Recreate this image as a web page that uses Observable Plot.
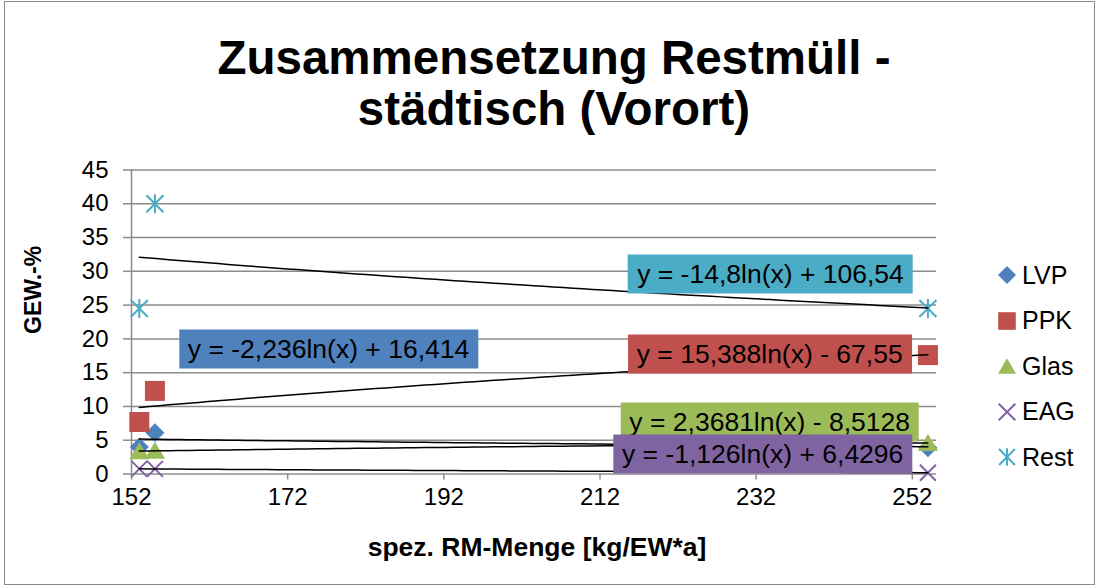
<!DOCTYPE html>
<html><head><meta charset="utf-8">
<script src="https://cdn.jsdelivr.net/npm/d3@7"></script>
<script src="https://cdn.jsdelivr.net/npm/@observablehq/plot@0.6"></script>
<style>
body{margin:0;background:#fff;}
#wrap{position:relative;width:1099px;height:588px;overflow:hidden;font-family:"Liberation Sans",Arial,sans-serif;background:#fff;}
#wrap svg.plot{position:absolute;left:0;top:0;}
#frame{position:absolute;left:4px;top:1px;width:1091px;height:584px;border:1.5px solid #8a8a8a;box-sizing:border-box;pointer-events:none;}
#title{position:absolute;left:0;width:1108px;top:32px;text-align:center;font-weight:bold;font-size:47.5px;line-height:51px;color:#000;}
.eq{position:absolute;transform:translate(-50%,-50%);white-space:nowrap;font-size:26.5px;padding:0 9px;height:39px;line-height:39px;color:#000;}
.leg{position:absolute;left:996px;height:30px;display:flex;align-items:center;font-size:25px;color:#000;transform:translateY(-50%);}
.leg svg{margin-right:4px;}
</style></head>
<body>
<div id="wrap"><div id="title">Zusammensetzung Restmüll -<br>städtisch (Vorort)</div></div>
<script>
// ---- data ----
const series = ["LVP", "PPK", "Glas", "EAG", "Rest"];
const colors = ["#4F81BD", "#C0504D", "#9BBB59", "#8064A2", "#4BACC6"];
const xValues = [153, 155, 254];
const LVP  = [4.0, 6.1, 3.9];
const PPK  = [7.7, 12.3, 17.6];
const Glas = [3.45, 3.5, 4.65];
const EAG  = [0.76, 0.76, 0.19];
const Rest = [24.5, 40.0, 24.5];
const values = [LVP, PPK, Glas, EAG, Rest];
// logarithmic trend lines y = a*ln(x) + b
const trendA = [-2.236, 15.388, 2.3681, -1.126, -14.8];
const trendB = [16.414, -67.55, -8.5128, 6.4296, 106.54];
const equations = ["y = -2,236ln(x) + 16,414", "y = 15,388ln(x) - 67,55", "y = 2,3681ln(x) - 8,5128", "y = -1,126ln(x) + 6,4296", "y = -14,8ln(x) + 106,54"];
// equation label centres in data units
const eqX = [177.3, 233.8, 233.8, 232.9, 233.9];
const eqY = [18.5, 17.7, 7.55, 2.96, 29.6];
const xTicks = [152, 172, 192, 212, 232, 252];
const yTicks = [0, 5, 10, 15, 20, 25, 30, 35, 40, 45];

// ---- symbols ----
const rad = s => Math.sqrt(s / Math.PI);
const symDiamond = {draw(c, s){const r = rad(s); c.moveTo(0,-r); c.lineTo(r,0); c.lineTo(0,r); c.lineTo(-r,0); c.closePath();}};
const symSquare = {draw(c, s){const r = rad(s); c.rect(-r,-r,2*r,2*r);}};
const symTriangle = {draw(c, s){const r = rad(s); c.moveTo(0,-0.85*r); c.lineTo(r,0.85*r); c.lineTo(-r,0.85*r); c.closePath();}};
const symTimes = {draw(c, s){const r = rad(s); c.moveTo(-r,-r); c.lineTo(r,r); c.moveTo(-r,r); c.lineTo(r,-r);}};
const symStar = {draw(c, s){const r = rad(s); const d = 0.9*r; c.moveTo(-d,-d); c.lineTo(d,d); c.moveTo(-d,d); c.lineTo(d,-d); c.moveTo(0,-r); c.lineTo(0,r);}};
const symbols = [symDiamond, symSquare, symTriangle, symTimes, symStar];
const sizes = [9.5, 10, 10, 8, 9.5];
const filled = [true, true, true, false, false];

// ---- tables ----
const rows = series.map((s, i) => values[i].map((v, j) => ({series: s, x: xValues[j], y: v})));
const [xmin, xmax] = d3.extent(xValues);
const trendRows = [];
series.forEach((s, i) => {
  const n = 80;
  for (let k = 0; k <= n; k++) {
    const x = xmin + (xmax - xmin) * k / n;
    trendRows.push({series: s, x, y: trendA[i] * Math.log(x) + trendB[i]});
  }
});

const gray = "#8c8c8c";
const font = "'Liberation Sans', Arial, sans-serif";
const marks = [
  Plot.gridY({ticks: yTicks, stroke: gray, strokeOpacity: 1, strokeWidth: 1.5}),
  Plot.axisY({ticks: yTicks, tickSize: 8, tickPadding: 15, stroke: gray, strokeWidth: 1.5, label: null, fontSize: 24}),
  Plot.axisX({ticks: xTicks, tickSize: 6, tickPadding: 8, stroke: gray, strokeWidth: 1.5, label: null, fontSize: 24}),
  Plot.ruleX([152], {stroke: gray, strokeWidth: 1.5}),
];
series.forEach((s, i) => {
  marks.push(Plot.dot(rows[i], {x: "x", y: "y", symbol: symbols[i], r: sizes[i],
    fill: filled[i] ? colors[i] : "none", stroke: filled[i] ? "none" : colors[i], strokeWidth: 2}));
});
marks.push(Plot.line(trendRows, {x: "x", y: "y", z: "series", stroke: "#000", strokeWidth: 1.5}));
marks.push(Plot.text(["GEW.-%"], {text: d => d, frameAnchor: "left", dx: -98, dy: 12, rotate: -90, fontWeight: "bold", fontSize: 23}));
marks.push(Plot.text(["spez. RM-Menge [kg/EW*a]"], {text: d => d, frameAnchor: "bottom", dy: 82, dx: 3, fontWeight: "bold", fontSize: 26.5}));

const chart = Plot.plot({
  width: 1099, height: 588,
  marginLeft: 131, marginRight: 163, marginTop: 169.5, marginBottom: 114.5,
  x: {domain: [152, 255.1]},
  y: {domain: [0, 45]},
  style: {fontFamily: font, fontSize: "24px", color: "#000", background: "transparent", overflow: "visible"},
  marks
});
chart.classList.add("plot");
const wrap = document.getElementById("wrap");
wrap.appendChild(chart);

// equation labels positioned through the plot scales
const sx = chart.scale("x"), sy = chart.scale("y");
[0, 1, 2, 3, 4].forEach(i => {
  const d = document.createElement("div");
  d.className = "eq";
  d.style.background = colors[i];
  d.style.left = sx.apply(eqX[i]) + "px";
  d.style.top = sy.apply(eqY[i]) + "px";
  d.textContent = equations[i];
  wrap.appendChild(d);
});

// legend
const legY0 = 275, legStep = 45.6;
const legSizes = [9, 8.8, 9, 8.3, 8.8];
series.forEach((s, i) => {
  const item = document.createElement("div");
  item.className = "leg";
  item.style.top = (legY0 + i * legStep) + "px";
  const r = legSizes[i];
  const path = d3.symbol().type(symbols[i]).size(Math.PI * r * r)();
  item.innerHTML = `<svg width="22" height="22" viewBox="-11 -11 22 22"><path d="${path}" fill="${filled[i] ? colors[i] : "none"}" stroke="${filled[i] ? "none" : colors[i]}" stroke-width="2"/></svg><span>${s}</span>`;
  wrap.appendChild(item);
});

const frame = document.createElement("div");
frame.id = "frame";
wrap.appendChild(frame);
</script>
</body></html>
